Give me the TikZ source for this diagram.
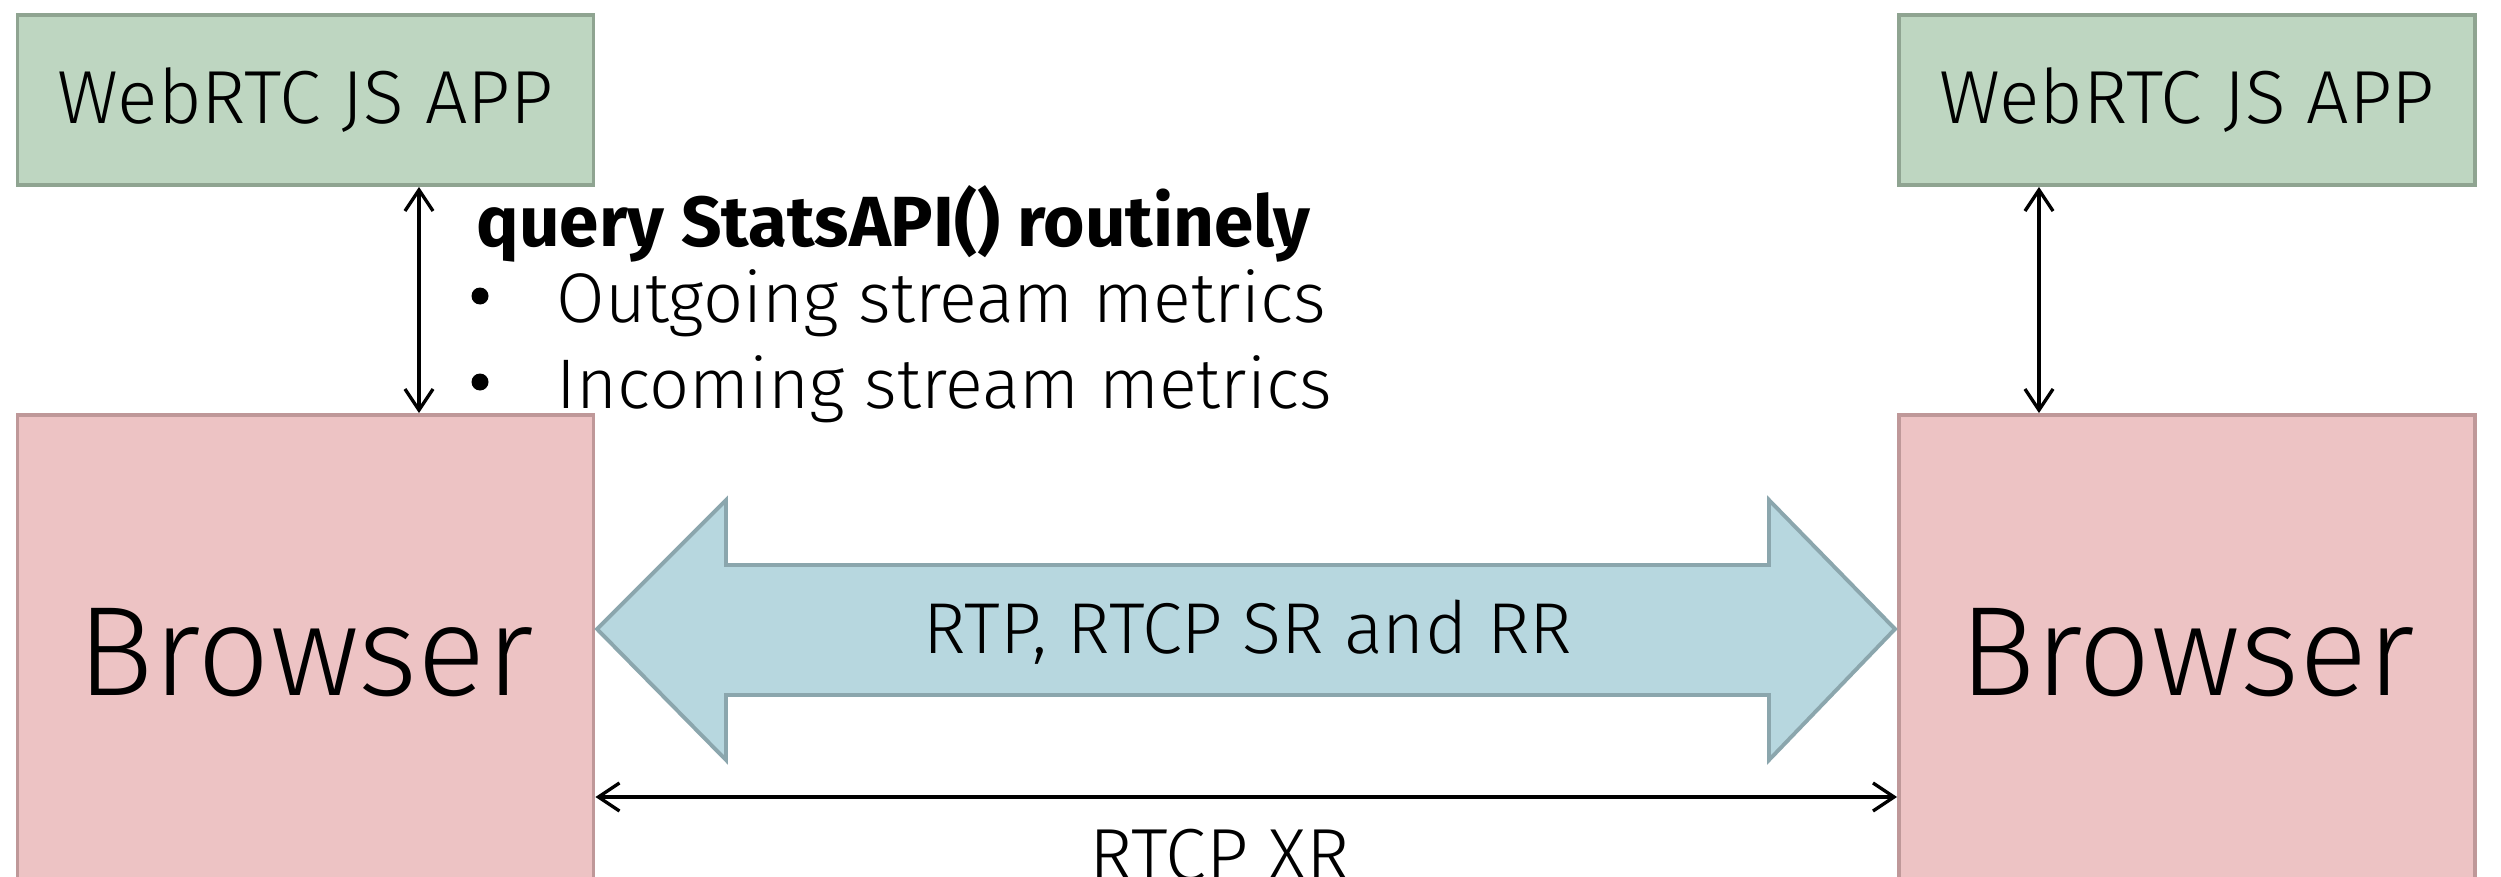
\documentclass[tikz,border=0pt]{standalone}
\usepackage{fontspec}
\setmainfont{Fira Sans Light}[BoldFont={Fira Sans Bold}]
\usetikzlibrary{arrows.meta}
\definecolor{appfill}{RGB}{190,214,193}
\definecolor{appdraw}{RGB}{143,164,145}
\definecolor{brfill}{RGB}{237,195,196}
\definecolor{brdraw}{RGB}{191,152,153}
\definecolor{pipefill}{RGB}{183,215,223}
\definecolor{pipedraw}{RGB}{139,166,173}
\begin{document}
\begin{tikzpicture}[x=0.1mm,y=-0.1mm,
  appbox/.style={draw=appdraw, fill=appfill, line width=1.1pt, inner sep=0pt,
    minimum width=57.6mm, minimum height=17mm, font=\fontsize{21.4}{25}\selectfont},
  brbox/.style={draw=brdraw, fill=brfill, line width=1.1pt, inner sep=0pt,
    minimum width=57.6mm, minimum height=47.6mm, font=\fontsize{36.2}{42}\selectfont},
  pipe/.style={draw=pipedraw, fill=pipefill, line width=1.1pt, line join=miter},
  conn/.style={draw=black, line width=0.95pt, {Straight Barb[length=6pt,width=8pt]}-{Straight Barb[length=6pt,width=8pt]}},
  txt/.style={inner sep=0pt, font=\fontsize{20}{24}\selectfont},
  dot/.style={circle, fill=black, inner sep=0pt, minimum size=1.7mm},
  hdr/.style={inner sep=0pt, font=\bfseries\fontsize{20.2}{24}\selectfont},
  lbl/.style={inner sep=0pt, font=\fontsize{20.5}{25}\selectfont},
  xrlbl/.style={inner sep=0pt, font=\fontsize{21}{25}\selectfont}
]
\clip (0,0) rectangle (2501,877);
\fill[white] (0,0) rectangle (2501,877);
% boxes
\node[appbox] (lapp) at (305.5,100) {WebRTC JS APP};
\node[appbox] (rapp) at (2187,100) {WebRTC JS APP};
\node[brbox] (lb) at (305.5,653) {Browser};
\node[brbox] (rb) at (2187,653) {Browser};
% big double arrow
\draw[pipe] (597,629) -- (726,500) -- (726,565) -- (1769,565) -- (1769,500)
  -- (1895,629) -- (1769,760) -- (1769,695) -- (726,695) -- (726,760) -- cycle;
\node[lbl] (rtp) at (1248,632) {RTP, RTCP SR and RR};
% vertical connectors
\coordinate (va) at (419,0);
\coordinate (vb) at (2039,0);
\draw[conn] (lapp.south -| va) -- (lb.north -| va);
\draw[conn] (rapp.south -| vb) -- (rb.north -| vb);
% RTCP XR
\coordinate (xr) at (0,797);
\draw[conn] (lb.east |- xr) -- (rb.west |- xr);
\node[xrlbl, anchor=base] (xrl) at (1220,880) {RTCP XR};
% stats text
\node[hdr, anchor=base west] (head) at (476,247) {query StatsAPI() routinely};
\node[dot] (d1) at (480,296) {};
\node[txt, anchor=base west] (b1) at (556,322) {Outgoing stream metrics};
\node[dot] (d2) at (480,382) {};
\node[txt, anchor=base west] (b2) at (556,408) {Incoming stream metrics};
\end{tikzpicture}
\end{document}
